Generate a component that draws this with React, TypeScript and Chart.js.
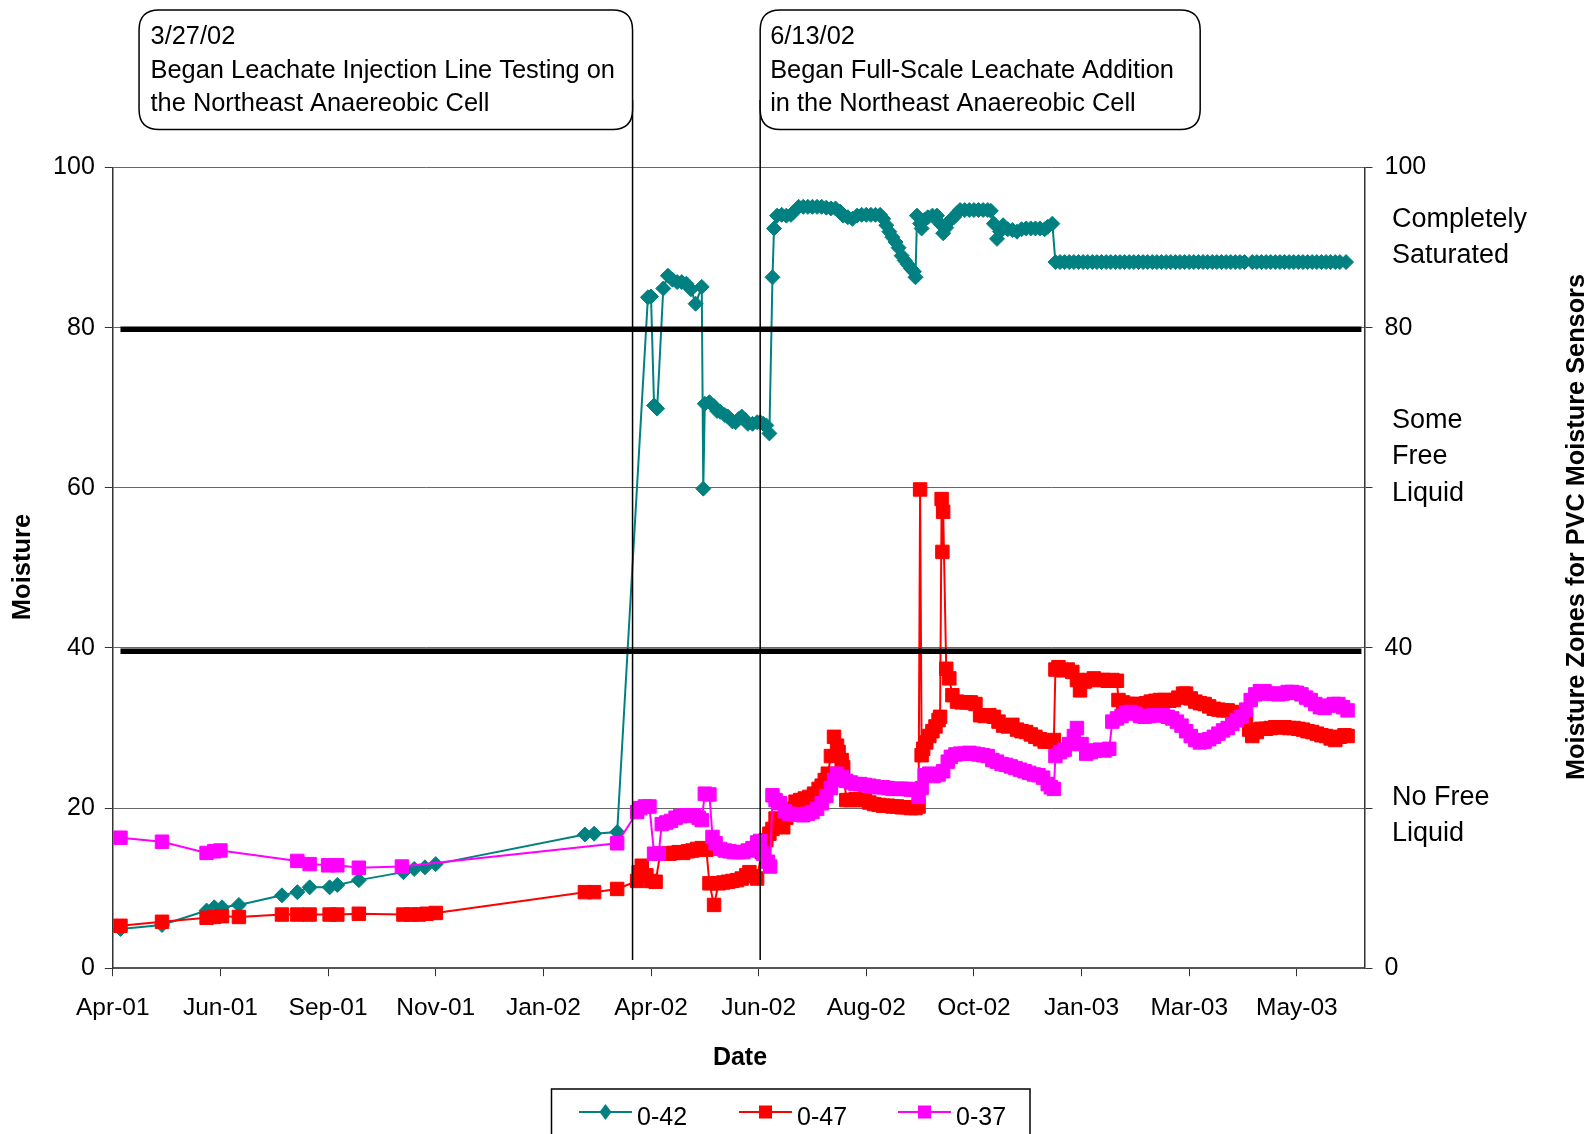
import React, { useEffect, useRef } from 'react';
import { Chart, registerables } from 'chart.js';

Chart.register(...registerables);

const FONT = "'Liberation Sans', Arial, Helvetica, sans-serif";

// x values are Excel date serials (days since 1899-12-30)
const X_MIN = 37000;
const X_MAX = 37814;
const X_TICK_VALUES = [37000, 37070, 37140, 37210, 37280, 37350, 37420, 37490, 37560, 37630, 37700, 37770];
const X_TICK_LABELS = ['Apr-01', 'Jun-01', 'Sep-01', 'Nov-01', 'Jan-02', 'Apr-02', 'Jun-02', 'Aug-02', 'Oct-02', 'Jan-03', 'Mar-03', 'May-03'];
const Y_RIGHT_LABELED = [0, 40, 80, 100];

const SERIES_NAMES = ['0-42', '0-47', '0-37'];
const SERIES_COLORS = ['#008080', '#FF0000', '#FF00FF'];

// [date serial, moisture]
const S_0_42: [number, number][] = [
  [37005, 4.9], [37032, 5.4], [37061, 7.2], [37066, 7.6], [37071, 7.6], [37082, 7.9], [37110, 9.1], [37120, 9.5],
  [37128, 10.1], [37141, 10.1], [37146, 10.4], [37160, 11.0], [37189, 12.0], [37196, 12.4], [37203, 12.6], [37210, 13.0],
  [37307, 16.7], [37313, 16.8], [37328, 17.0],
  [37348, 83.8], [37350, 83.9], [37352, 70.3], [37354, 69.9], [37358, 84.9], [37361, 86.5], [37364, 86.0], [37367, 85.7],
  [37370, 85.7], [37373, 85.5], [37376, 84.8], [37379, 83.0], [37383, 85.1], [37384, 59.9], [37385, 70.5], [37388, 70.7],
  [37391, 70.2], [37393, 69.6], [37395, 69.5], [37398, 69.1], [37400, 68.9], [37403, 68.3], [37405, 68.2], [37407, 68.6],
  [37409, 68.9], [37411, 68.5], [37413, 68.0], [37416, 68.0], [37419, 68.2], [37421, 68.2], [37423, 68.0], [37425, 67.8],
  [37427, 66.8], [37429, 86.3], [37430, 92.4], [37432, 94.0], [37435, 94.1], [37438, 94.0], [37441, 94.1], [37443, 94.5],
  [37446, 95.1], [37449, 95.1], [37452, 95.1], [37455, 95.1], [37458, 95.1], [37461, 95.1], [37464, 95.0], [37467, 94.9],
  [37470, 94.9], [37473, 94.5], [37475, 94.0], [37478, 93.8], [37481, 93.6], [37484, 94.0], [37487, 94.1], [37490, 94.1],
  [37493, 94.1], [37496, 94.1], [37499, 94.1], [37501, 93.6], [37503, 92.8], [37505, 92.0], [37507, 91.3], [37509, 90.7],
  [37511, 90.0], [37513, 89.0], [37515, 88.4], [37517, 87.9], [37519, 87.4], [37521, 87.0], [37522, 86.3], [37523, 94.0],
  [37525, 93.0], [37526, 92.4], [37528, 93.5], [37530, 93.8], [37533, 94.0], [37536, 94.0], [37538, 93.0], [37540, 91.8],
  [37542, 92.5], [37544, 93.3], [37547, 93.8], [37549, 94.3], [37551, 94.7], [37554, 94.7], [37557, 94.7], [37560, 94.7],
  [37563, 94.7], [37566, 94.7], [37569, 94.7], [37571, 94.6], [37573, 93.0], [37575, 91.1], [37577, 92.0], [37579, 92.8],
  [37582, 92.3], [37585, 92.2], [37588, 92.0], [37591, 92.3], [37594, 92.4], [37597, 92.4], [37600, 92.4], [37603, 92.4],
  [37606, 92.3], [37608, 92.6], [37611, 93.0], [37613, 88.2], [37616, 88.2], [37619, 88.2], [37622, 88.2], [37625, 88.2],
  [37628, 88.2], [37631, 88.2], [37634, 88.2], [37637, 88.2], [37640, 88.2], [37643, 88.2], [37646, 88.2], [37649, 88.2],
  [37652, 88.2], [37655, 88.2], [37658, 88.2], [37661, 88.2], [37664, 88.2], [37667, 88.2], [37670, 88.2], [37673, 88.2],
  [37676, 88.2], [37679, 88.2], [37682, 88.2], [37685, 88.2], [37688, 88.2], [37691, 88.2], [37694, 88.2], [37697, 88.2],
  [37700, 88.2], [37703, 88.2], [37706, 88.2], [37709, 88.2], [37712, 88.2], [37715, 88.2], [37718, 88.2], [37721, 88.2],
  [37724, 88.2], [37727, 88.2], [37730, 88.2], [37733, 88.2], [37736, 88.2], [37741, 88.2], [37744, 88.2], [37747, 88.2],
  [37750, 88.2], [37753, 88.2], [37756, 88.2], [37759, 88.2], [37762, 88.2], [37765, 88.2], [37768, 88.2], [37771, 88.2],
  [37774, 88.2], [37777, 88.2], [37780, 88.2], [37783, 88.2], [37786, 88.2], [37789, 88.2], [37792, 88.2], [37795, 88.2],
  [37798, 88.2], [37802, 88.2],
];

const S_0_47: [number, number][] = [
  [37005, 5.3], [37032, 5.8], [37061, 6.3], [37066, 6.4], [37071, 6.5], [37082, 6.4], [37110, 6.7], [37120, 6.7],
  [37128, 6.7], [37141, 6.7], [37146, 6.7], [37160, 6.8], [37189, 6.7], [37194, 6.7], [37199, 6.7], [37204, 6.8],
  [37210, 6.9], [37307, 9.5], [37313, 9.5], [37328, 9.9], [37341, 10.9], [37342, 12.0], [37344, 12.8], [37347, 11.6],
  [37350, 10.9], [37353, 10.8], [37356, 14.3], [37359, 14.3], [37362, 14.3], [37365, 14.4], [37368, 14.5], [37371, 14.4],
  [37374, 14.6], [37377, 14.7], [37380, 14.9], [37383, 15.0], [37386, 14.8], [37388, 10.6], [37391, 7.9], [37394, 10.6],
  [37397, 10.7], [37400, 10.8], [37403, 10.9], [37406, 11.0], [37409, 11.2], [37412, 11.6], [37414, 12.0], [37417, 11.5],
  [37419, 11.2], [37422, 14.5], [37425, 16.0], [37427, 16.8], [37429, 17.4], [37431, 18.7], [37433, 18.0], [37436, 17.6],
  [37438, 18.8], [37441, 19.9], [37444, 20.8], [37447, 21.0], [37450, 21.2], [37453, 21.4], [37456, 21.8], [37459, 22.4],
  [37461, 22.8], [37463, 23.5], [37465, 24.3], [37467, 26.5], [37469, 28.9], [37471, 27.8], [37472, 27.0], [37474, 26.0],
  [37475, 25.1], [37477, 21.0], [37480, 21.0], [37483, 21.1], [37486, 21.0], [37489, 21.0], [37492, 20.7], [37495, 20.5],
  [37498, 20.4], [37501, 20.3], [37504, 20.3], [37507, 20.2], [37510, 20.2], [37513, 20.1], [37516, 20.1], [37519, 20.0],
  [37522, 20.0], [37524, 20.2], [37525, 59.8], [37526, 26.6], [37527, 27.4], [37529, 28.2], [37531, 29.0], [37533, 29.6],
  [37535, 30.2], [37537, 31.0], [37538, 31.4], [37539, 58.6], [37539.5, 52.0], [37540, 57.0], [37542, 37.4], [37544, 36.2],
  [37546, 34.1], [37549, 33.3], [37552, 33.2], [37555, 33.2], [37558, 33.2], [37561, 33.0], [37564, 31.6], [37567, 31.5],
  [37570, 31.6], [37573, 31.4], [37576, 30.8], [37579, 30.3], [37582, 30.2], [37585, 30.4], [37588, 29.8], [37591, 29.6],
  [37594, 29.5], [37597, 29.2], [37600, 28.9], [37603, 28.6], [37606, 28.3], [37609, 28.3], [37612, 28.5], [37613, 37.3],
  [37615, 37.6], [37618, 37.2], [37621, 37.3], [37624, 37.0], [37627, 36.0], [37629, 34.7], [37632, 35.8], [37635, 36.0],
  [37638, 36.2], [37641, 36.0], [37644, 36.0], [37647, 35.9], [37650, 36.0], [37653, 35.9], [37654, 33.5], [37657, 33.2],
  [37660, 33.0], [37663, 33.0], [37666, 33.0], [37669, 32.9], [37672, 33.1], [37675, 33.3], [37678, 33.4], [37681, 33.5],
  [37684, 33.5], [37687, 33.4], [37690, 33.5], [37693, 33.8], [37696, 34.3], [37698, 34.3], [37701, 33.7], [37704, 33.3],
  [37707, 33.1], [37710, 33.0], [37713, 32.7], [37716, 32.4], [37719, 32.3], [37722, 32.2], [37725, 32.2], [37728, 32.0],
  [37731, 31.7], [37734, 31.4], [37737, 31.0], [37739, 29.8], [37741, 29.0], [37744, 29.5], [37747, 29.9], [37750, 29.9],
  [37753, 30.0], [37756, 30.1], [37759, 30.1], [37762, 30.1], [37765, 30.0], [37768, 30.0], [37771, 29.9], [37774, 29.8],
  [37777, 29.6], [37780, 29.5], [37783, 29.3], [37786, 29.1], [37789, 29.0], [37792, 28.7], [37795, 28.5], [37798, 28.9],
  [37801, 29.1], [37803, 29.0],
];

const S_0_37: [number, number][] = [
  [37005, 16.3], [37032, 15.8], [37061, 14.4], [37066, 14.6], [37070, 14.7], [37120, 13.4], [37128, 13.0], [37140, 12.85],
  [37146, 12.85], [37160, 12.55], [37188, 12.7], [37328, 15.6], [37341, 19.5], [37343, 20.0], [37346, 20.2], [37349, 20.2],
  [37352, 14.3], [37355, 14.3], [37357, 18.0], [37360, 18.2], [37363, 18.4], [37366, 18.8], [37369, 19.0], [37372, 19.1],
  [37375, 19.1], [37378, 19.1], [37381, 18.8], [37383, 18.5], [37385, 21.8], [37388, 21.7], [37390, 16.4], [37392, 15.6],
  [37395, 14.9], [37398, 14.7], [37401, 14.6], [37404, 14.5], [37407, 14.5], [37410, 14.5], [37413, 14.7], [37416, 15.0],
  [37419, 15.7], [37421, 15.9], [37423, 14.3], [37426, 13.3], [37427.5, 12.7], [37429, 21.6], [37431, 21.0], [37434, 20.6],
  [37437, 19.6], [37440, 19.3], [37443, 19.2], [37446, 19.2], [37449, 19.1], [37452, 19.3], [37455, 19.5], [37458, 19.9],
  [37461, 20.6], [37464, 21.5], [37467, 22.5], [37469, 23.5], [37471, 24.3], [37474, 23.9], [37477, 23.4], [37480, 23.2],
  [37483, 23.0], [37486, 23.0], [37489, 22.9], [37492, 22.8], [37495, 22.7], [37498, 22.6], [37501, 22.6], [37504, 22.5],
  [37507, 22.4], [37510, 22.4], [37513, 22.4], [37516, 22.4], [37519, 22.3], [37522, 22.3], [37524, 21.4], [37526, 22.5],
  [37528, 24.1], [37531, 24.3], [37534, 24.0], [37537, 24.2], [37540, 24.6], [37543, 25.8], [37545, 26.4], [37548, 26.7],
  [37551, 26.8], [37554, 26.8], [37557, 26.9], [37560, 26.8], [37563, 26.7], [37566, 26.6], [37569, 26.5], [37572, 26.0],
  [37575, 25.8], [37578, 25.5], [37581, 25.4], [37584, 25.2], [37587, 25.0], [37590, 24.8], [37593, 24.6], [37596, 24.4],
  [37599, 24.2], [37602, 24.1], [37605, 23.8], [37608, 23.0], [37610, 22.6], [37612, 22.4], [37613, 26.5], [37616, 27.0],
  [37619, 27.3], [37622, 28.0], [37625, 29.0], [37627, 30.0], [37630, 28.0], [37633, 26.8], [37636, 27.0], [37639, 27.2],
  [37642, 27.3], [37645, 27.2], [37648, 27.4], [37650, 30.8], [37653, 31.2], [37656, 31.5], [37659, 31.9], [37662, 32.0],
  [37665, 31.8], [37668, 31.5], [37671, 31.4], [37674, 31.5], [37677, 31.6], [37680, 31.6], [37683, 31.6], [37686, 31.4],
  [37689, 31.2], [37692, 30.8], [37695, 30.3], [37698, 29.6], [37701, 29.0], [37704, 28.5], [37707, 28.2], [37710, 28.3],
  [37713, 28.6], [37716, 28.9], [37719, 29.3], [37722, 29.7], [37725, 30.0], [37728, 30.5], [37731, 31.0], [37734, 31.4],
  [37737, 32.3], [37740, 33.5], [37743, 34.2], [37746, 34.6], [37749, 34.6], [37752, 34.3], [37755, 34.3], [37758, 34.2],
  [37761, 34.3], [37764, 34.5], [37767, 34.5], [37770, 34.4], [37773, 34.2], [37776, 33.8], [37779, 33.5], [37782, 33.0],
  [37785, 32.6], [37788, 32.5], [37791, 32.8], [37794, 33.0], [37797, 33.0], [37800, 32.6], [37803, 32.2],
];

// Zone boundary lines (moisture values) and their date extent
const ZONE_BOUNDARIES = [79.8, 39.6];
const ZONE_LINE_X = [37005, 37812];

// Zone texts beside the right axis: [moisture value of first line, lines]
const ZONE_TEXTS: [number, string[]][] = [
  [93.5, ['Completely', 'Saturated']],
  [68.4, ['Some', 'Free', 'Liquid']],
  [21.35, ['No Free', 'Liquid']],
];

// Callout annotations: date of the event line and text
const ANNOTATION_LINE_X = [37338, 37421];
const ANNOTATION_TEXTS = [
  ['3/27/02', 'Began Leachate Injection Line Testing on', 'the Northeast Anaereobic Cell'],
  ['6/13/02', 'Began Full-Scale Leachate Addition', 'in the Northeast Anaereobic Cell'],
];

const toPts = (arr: [number, number][]) => arr.map(([x, y]) => ({ x, y }));

function roundRect(ctx: CanvasRenderingContext2D, x: number, y: number, w: number, h: number, r: number) {
  ctx.beginPath();
  ctx.moveTo(x + r, y);
  ctx.lineTo(x + w - r, y);
  ctx.quadraticCurveTo(x + w, y, x + w, y + r);
  ctx.lineTo(x + w, y + h - r);
  ctx.quadraticCurveTo(x + w, y + h, x + w - r, y + h);
  ctx.lineTo(x + r, y + h);
  ctx.quadraticCurveTo(x, y + h, x, y + h - r);
  ctx.lineTo(x, y + r);
  ctx.quadraticCurveTo(x, y, x + r, y);
  ctx.closePath();
}

const overlayPlugin = {
  id: 'overlay',
  afterDraw(chart: any) {
    const ctx: CanvasRenderingContext2D = chart.ctx;
    const xs = chart.scales.x;
    const ys = chart.scales.y;
    ctx.save();

    // event lines
    const linePx = ANNOTATION_LINE_X.map((d) => xs.getPixelForValue(d));
    ctx.strokeStyle = '#000';
    ctx.lineWidth = 1.5;
    linePx.forEach((px) => {
      ctx.beginPath();
      ctx.moveTo(px, 100);
      ctx.lineTo(px, 960);
      ctx.stroke();
    });

    // callout boxes
    const boxes = [
      { left: linePx[0] - 493.5, right: linePx[0], textX: linePx[0] - 482 },
      { left: linePx[1], right: linePx[1] + 440, textX: linePx[1] + 10 },
    ];
    boxes.forEach((b, i) => {
      roundRect(ctx, b.left, 10, b.right - b.left, 119.5, 20);
      ctx.fillStyle = '#fff';
      ctx.fill();
      ctx.strokeStyle = '#000';
      ctx.lineWidth = 1.5;
      ctx.stroke();
      ctx.fillStyle = '#000';
      ctx.font = `25.4px ${FONT}`;
      ctx.textAlign = 'left';
      ctx.textBaseline = 'alphabetic';
      ANNOTATION_TEXTS[i].forEach((t, j) => ctx.fillText(t, b.textX, 44 + j * 33.5));
    });

    // zone texts
    ctx.font = `27px ${FONT}`;
    ctx.fillStyle = '#000';
    ctx.textBaseline = 'middle';
    ZONE_TEXTS.forEach(([v, lines]) => {
      const y0 = ys.getPixelForValue(v);
      lines.forEach((t, j) => ctx.fillText(t, 1392, y0 + j * 36.4));
    });

    // axis titles
    ctx.font = `bold 25px ${FONT}`;
    ctx.textAlign = 'center';
    ctx.textBaseline = 'middle';
    ctx.fillText('Date', 740, 1058);
    ctx.save();
    ctx.translate(22.5, 567);
    ctx.rotate(-Math.PI / 2);
    ctx.font = `bold 25.5px ${FONT}`;
    ctx.fillText('Moisture', 0, 0);
    ctx.restore();
    ctx.save();
    ctx.translate(1577, 527);
    ctx.rotate(-Math.PI / 2);
    ctx.font = `bold 25.3px ${FONT}`;
    ctx.fillText('Moisture Zones for PVC Moisture Sensors', 0, 0);
    ctx.restore();

    // legend
    ctx.strokeStyle = '#000';
    ctx.lineWidth = 1.5;
    ctx.strokeRect(551.5, 1089, 478.5, 60);
    const itemX = [579, 739, 898];
    const ly = 1112;
    SERIES_NAMES.forEach((name, i) => {
      const c = SERIES_COLORS[i];
      const x0 = itemX[i];
      ctx.strokeStyle = c;
      ctx.lineWidth = 2;
      ctx.beginPath();
      ctx.moveTo(x0, ly);
      ctx.lineTo(x0 + 53, ly);
      ctx.stroke();
      ctx.fillStyle = c;
      const cx = x0 + 26.5;
      if (i === 0) {
        ctx.beginPath();
        ctx.moveTo(cx - 6, ly);
        ctx.lineTo(cx, ly - 8);
        ctx.lineTo(cx + 6, ly);
        ctx.lineTo(cx, ly + 8);
        ctx.closePath();
        ctx.fill();
      } else {
        ctx.fillRect(cx - 6.5, ly - 6.5, 13, 13);
      }
      ctx.fillStyle = '#000';
      ctx.font = `25px ${FONT}`;
      ctx.textAlign = 'left';
      ctx.textBaseline = 'alphabetic';
      ctx.fillText(name, x0 + 58, 1125);
    });

    ctx.restore();
  },
};

export default function App() {
  const ref = useRef<HTMLCanvasElement>(null);

  useEffect(() => {
    const canvas = ref.current;
    if (!canvas) return;
    const seriesData = [S_0_42, S_0_47, S_0_37];
    const styles = [
      { pointStyle: 'rectRot', pointRadius: 7.5 },
      { pointStyle: 'rect', pointRadius: 9.5 },
      { pointStyle: 'rect', pointRadius: 9.5 },
    ];
    const datasets: any[] = seriesData.map((d, i) => ({
      label: SERIES_NAMES[i],
      data: toPts(d),
      borderColor: SERIES_COLORS[i],
      backgroundColor: SERIES_COLORS[i],
      pointBackgroundColor: SERIES_COLORS[i],
      pointBorderColor: SERIES_COLORS[i],
      pointBorderWidth: 1,
      borderWidth: 2,
      pointStyle: styles[i].pointStyle,
      pointRadius: styles[i].pointRadius,
      tension: 0,
      order: 4 - i,
      yAxisID: 'y',
    }));
    ZONE_BOUNDARIES.forEach((b) => {
      datasets.push({
        label: 'zone',
        data: ZONE_LINE_X.map((x) => ({ x, y: b })),
        borderColor: '#000',
        borderWidth: 5.5,
        pointRadius: 0,
        order: 0,
        yAxisID: 'y',
      });
    });

    const tickFont = { family: FONT, size: 25 };
    const chart = new Chart(canvas, {
      type: 'line',
      data: { datasets },
      plugins: [overlayPlugin],
      options: {
        responsive: false,
        animation: false,
        devicePixelRatio: 1,
        layout: { padding: { top: 167.6, left: 0, right: 0, bottom: 0 } },
        plugins: { legend: { display: false }, tooltip: { enabled: false } },
        scales: {
          x: {
            type: 'linear',
            min: X_MIN,
            max: X_MAX,
            afterBuildTicks: (s: any) => {
              s.ticks = X_TICK_VALUES.map((v) => ({ value: v }));
            },
            afterFit: (s: any) => {
              s.height = 165.8;
            },
            grid: { drawOnChartArea: false, drawTicks: true, tickLength: 8, color: '#333', lineWidth: 1 },
            border: { display: true, color: '#555', width: 2 },
            ticks: {
              callback: (_v: any, i: number) => X_TICK_LABELS[i] ?? '',
              font: { family: FONT, size: 24.5 },
              color: '#000',
              padding: 17,
              maxRotation: 0,
              autoSkip: false,
            },
          },
          y: {
            position: 'left',
            min: 0,
            max: 100,
            afterFit: (s: any) => {
              s.width = 112.8;
            },
            grid: { color: '#666', lineWidth: 1, tickLength: 8, tickColor: '#333' },
            border: { display: true, color: '#333', width: 1.5 },
            ticks: { stepSize: 20, font: tickFont, color: '#000', padding: 10 },
          },
          y2: {
            position: 'right',
            min: 0,
            max: 100,
            afterFit: (s: any) => {
              s.width = 228.5;
            },
            grid: { drawOnChartArea: false, tickLength: 8, color: '#333' },
            border: { display: true, color: '#333', width: 1.5 },
            ticks: {
              stepSize: 20,
              font: tickFont,
              color: '#000',
              padding: 12,
              callback: (v: any) => (Y_RIGHT_LABELED.includes(Number(v)) ? String(v) : ''),
            },
          },
        },
      } as any,
    });
    return () => chart.destroy();
  }, []);

  return (
    <canvas
      ref={ref}
      width={1593}
      height={1134}
      style={{ position: 'absolute', left: 0, top: 0, width: '1593px', height: '1134px', display: 'block' }}
    />
  );
}
